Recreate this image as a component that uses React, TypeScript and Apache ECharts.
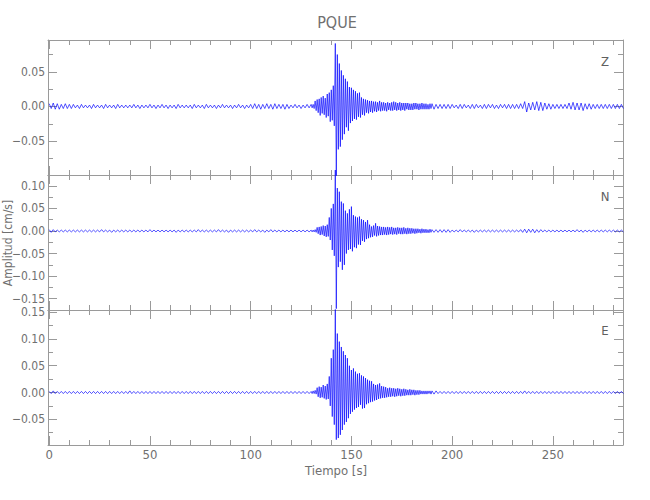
import React, { useEffect, useRef } from "react";
import * as echarts from "echarts";

// Coarse envelope: one bin every 2 s (t = 0, 2, ..., 284), max (hi) and min (lo) per bin
const T_STEP = 2;
// Fine envelope in the event window: one bin per second from EV_START to EV_END-1
const EV_START = 130;
const EV_END = 190;
const EV_STEP = 1;

const X_MIN = -0.6;
const X_MAX = 284.8;
const xMajor = [0, 50, 100, 150, 200, 250];
const xMinor = [10, 20, 30, 40, 60, 70, 80, 90, 110, 120, 130, 140, 160, 170, 180, 190, 210, 220, 230, 240, 260, 270, 280];

const components = ["Z", "N", "E"];
const yRanges = [
  [-0.099, 0.096],
  [-0.175, 0.124],
  [-0.098, 0.154],
];
const yMajors = [
  [-0.05, 0, 0.05],
  [-0.15, -0.1, -0.05, 0, 0.05, 0.1],
  [-0.05, 0, 0.05, 0.1, 0.15],
];
const yMinors = [
  [-0.075, -0.025, 0.025, 0.075],
  [-0.125, -0.075, -0.025, 0.025, 0.075],
  [-0.075, -0.025, 0.025, 0.075, 0.125],
];

const zHi = [
  0.004, 0.005, 0.004, 0.003, 0.004, 0.003, 0.003, 0.002, 0.003, 0.002,
  0.002, 0.003, 0.002, 0.002, 0.003, 0.002, 0.002, 0.003, 0.002, 0.002,
  0.002, 0.003, 0.002, 0.002, 0.002, 0.003, 0.002, 0.002, 0.003, 0.002,
  0.002, 0.002, 0.003, 0.002, 0.002, 0.002, 0.003, 0.002, 0.002, 0.003,
  0.002, 0.002, 0.002, 0.003, 0.002, 0.002, 0.002, 0.003, 0.002, 0.002,
  0.003, 0.004, 0.003, 0.003, 0.004, 0.003, 0.004, 0.003, 0.003, 0.003,
  0.002, 0.003, 0.002, 0.002, 0.003, 0.002, 0.009, 0.012, 0.015, 0.018,
  0.027, 0.091, 0.062, 0.047, 0.037, 0.027, 0.022, 0.020, 0.011, 0.009,
  0.008, 0.007, 0.008, 0.006, 0.006, 0.007, 0.006, 0.006, 0.005, 0.005,
  0.004, 0.005, 0.004, 0.005, 0.004, 0.004, 0.003, 0.003, 0.003, 0.003,
  0.003, 0.002, 0.003, 0.003, 0.002, 0.003, 0.003, 0.002, 0.003, 0.003,
  0.003, 0.002, 0.003, 0.003, 0.003, 0.003, 0.003, 0.004, 0.007, 0.005,
  0.006, 0.007, 0.006, 0.005, 0.004, 0.003, 0.003, 0.003, 0.003, 0.005,
  0.006, 0.005, 0.005, 0.004, 0.004, 0.003, 0.003, 0.003, 0.003, 0.003,
  0.003, 0.003, 0.003,
];
const zLo = [
  -0.003, -0.004, -0.004, -0.003, -0.003, -0.003, -0.002, -0.003, -0.002, -0.002,
  -0.003, -0.002, -0.002, -0.003, -0.002, -0.002, -0.003, -0.002, -0.002, -0.002,
  -0.002, -0.002, -0.003, -0.002, -0.002, -0.002, -0.003, -0.002, -0.002, -0.003,
  -0.002, -0.003, -0.002, -0.002, -0.002, -0.003, -0.002, -0.002, -0.003, -0.002,
  -0.002, -0.003, -0.002, -0.002, -0.002, -0.003, -0.002, -0.002, -0.003, -0.002,
  -0.003, -0.003, -0.004, -0.003, -0.003, -0.004, -0.003, -0.003, -0.004, -0.003,
  -0.002, -0.002, -0.003, -0.002, -0.002, -0.003, -0.008, -0.014, -0.012, -0.020,
  -0.025, -0.100, -0.060, -0.040, -0.035, -0.021, -0.019, -0.016, -0.013, -0.010,
  -0.009, -0.008, -0.007, -0.006, -0.007, -0.006, -0.006, -0.005, -0.006, -0.005,
  -0.005, -0.004, -0.005, -0.004, -0.004, -0.004, -0.003, -0.003, -0.003, -0.003,
  -0.002, -0.003, -0.003, -0.002, -0.003, -0.003, -0.002, -0.003, -0.003, -0.002,
  -0.003, -0.003, -0.002, -0.003, -0.003, -0.003, -0.003, -0.003, -0.008, -0.005,
  -0.005, -0.006, -0.006, -0.004, -0.004, -0.003, -0.003, -0.003, -0.003, -0.004,
  -0.005, -0.005, -0.006, -0.004, -0.004, -0.003, -0.003, -0.003, -0.003, -0.003,
  -0.003, -0.003, -0.003,
];
const zEvHi = [
  0.003, 0.003, 0.008, 0.010, 0.011, 0.013, 0.015, 0.012, 0.018, 0.020,
  0.024, 0.030, 0.091, 0.075, 0.062, 0.052, 0.045, 0.040, 0.036, 0.028,
  0.027, 0.024, 0.022, 0.019, 0.020, 0.013, 0.011, 0.010, 0.009, 0.008,
  0.008, 0.007, 0.007, 0.006, 0.008, 0.006, 0.006, 0.005, 0.006, 0.005,
  0.006, 0.007, 0.006, 0.005, 0.006, 0.005, 0.005, 0.005, 0.005, 0.004,
  0.004, 0.005, 0.005, 0.004, 0.004, 0.005, 0.004, 0.004, 0.003, 0.004,
];
const zEvLo = [
  -0.002, -0.003, -0.006, -0.009, -0.013, -0.010, -0.012, -0.016, -0.014, -0.022,
  -0.020, -0.028, -0.100, -0.062, -0.058, -0.048, -0.040, -0.030, -0.035, -0.024,
  -0.021, -0.018, -0.019, -0.015, -0.016, -0.012, -0.013, -0.009, -0.010, -0.008,
  -0.009, -0.007, -0.008, -0.006, -0.007, -0.006, -0.006, -0.007, -0.005, -0.006,
  -0.006, -0.005, -0.006, -0.005, -0.006, -0.005, -0.006, -0.004, -0.005, -0.005,
  -0.005, -0.004, -0.004, -0.005, -0.004, -0.004, -0.004, -0.004, -0.004, -0.003,
];

const nHi = [
  0.003, 0.003, 0.002, 0.002, 0.002, 0.002, 0.002, 0.002, 0.002, 0.002,
  0.002, 0.002, 0.002, 0.003, 0.002, 0.002, 0.002, 0.002, 0.002, 0.002,
  0.002, 0.002, 0.002, 0.002, 0.002, 0.003, 0.002, 0.002, 0.002, 0.002,
  0.002, 0.002, 0.002, 0.002, 0.002, 0.002, 0.002, 0.003, 0.002, 0.002,
  0.002, 0.002, 0.003, 0.002, 0.002, 0.002, 0.002, 0.002, 0.002, 0.002,
  0.002, 0.003, 0.002, 0.002, 0.002, 0.003, 0.002, 0.002, 0.002, 0.002,
  0.002, 0.002, 0.002, 0.002, 0.002, 0.003, 0.006, 0.010, 0.013, 0.015,
  0.050, 0.135, 0.087, 0.061, 0.039, 0.054, 0.032, 0.032, 0.024, 0.024,
  0.010, 0.017, 0.010, 0.009, 0.009, 0.009, 0.007, 0.007, 0.008, 0.007,
  0.007, 0.005, 0.005, 0.005, 0.004, 0.003, 0.003, 0.003, 0.003, 0.003,
  0.002, 0.002, 0.003, 0.002, 0.002, 0.002, 0.002, 0.002, 0.002, 0.002,
  0.002, 0.002, 0.002, 0.002, 0.002, 0.002, 0.002, 0.003, 0.004, 0.004,
  0.004, 0.003, 0.003, 0.002, 0.002, 0.002, 0.002, 0.002, 0.002, 0.002,
  0.002, 0.003, 0.002, 0.002, 0.002, 0.002, 0.002, 0.002, 0.002, 0.002,
  0.002, 0.002, 0.002,
];
const nLo = [
  -0.003, -0.002, -0.002, -0.002, -0.002, -0.002, -0.002, -0.002, -0.002, -0.002,
  -0.002, -0.002, -0.002, -0.002, -0.002, -0.003, -0.002, -0.002, -0.002, -0.002,
  -0.002, -0.002, -0.002, -0.002, -0.002, -0.002, -0.002, -0.002, -0.002, -0.002,
  -0.002, -0.003, -0.002, -0.002, -0.002, -0.002, -0.002, -0.002, -0.002, -0.002,
  -0.002, -0.002, -0.002, -0.002, -0.003, -0.002, -0.002, -0.002, -0.002, -0.002,
  -0.002, -0.002, -0.002, -0.003, -0.002, -0.002, -0.002, -0.002, -0.002, -0.002,
  -0.002, -0.002, -0.002, -0.002, -0.002, -0.002, -0.005, -0.009, -0.012, -0.013,
  -0.042, -0.172, -0.068, -0.086, -0.042, -0.045, -0.038, -0.031, -0.024, -0.016,
  -0.013, -0.012, -0.009, -0.008, -0.008, -0.008, -0.007, -0.007, -0.006, -0.007,
  -0.006, -0.005, -0.005, -0.004, -0.004, -0.003, -0.003, -0.003, -0.003, -0.003,
  -0.002, -0.002, -0.002, -0.002, -0.002, -0.003, -0.002, -0.002, -0.002, -0.002,
  -0.002, -0.002, -0.002, -0.002, -0.002, -0.002, -0.002, -0.003, -0.004, -0.003,
  -0.004, -0.003, -0.002, -0.002, -0.002, -0.002, -0.002, -0.002, -0.002, -0.002,
  -0.002, -0.002, -0.003, -0.002, -0.002, -0.002, -0.002, -0.002, -0.002, -0.002,
  -0.002, -0.002, -0.002,
];
const nEvHi = [
  0.002, 0.002, 0.003, 0.008, 0.009, 0.010, 0.012, 0.011, 0.014, 0.030,
  0.050, 0.060, 0.135, 0.095, 0.087, 0.065, 0.061, 0.045, 0.039, 0.048,
  0.054, 0.035, 0.032, 0.030, 0.032, 0.026, 0.024, 0.020, 0.024, 0.014,
  0.010, 0.012, 0.017, 0.011, 0.010, 0.009, 0.009, 0.008, 0.009, 0.008,
  0.009, 0.007, 0.007, 0.008, 0.007, 0.007, 0.008, 0.006, 0.007, 0.006,
  0.006, 0.005, 0.005, 0.005, 0.004, 0.005, 0.004, 0.004, 0.003, 0.004,
];
const nEvLo = [
  -0.002, -0.002, -0.003, -0.006, -0.009, -0.008, -0.011, -0.013, -0.012, -0.020,
  -0.042, -0.055, -0.172, -0.080, -0.068, -0.086, -0.075, -0.050, -0.042, -0.040,
  -0.045, -0.036, -0.038, -0.030, -0.031, -0.022, -0.024, -0.018, -0.016, -0.014,
  -0.013, -0.010, -0.012, -0.010, -0.009, -0.009, -0.008, -0.009, -0.008, -0.007,
  -0.008, -0.007, -0.008, -0.006, -0.007, -0.007, -0.006, -0.007, -0.006, -0.006,
  -0.005, -0.006, -0.005, -0.004, -0.005, -0.004, -0.004, -0.004, -0.004, -0.003,
];

const eHi = [
  0.002, 0.003, 0.002, 0.002, 0.002, 0.002, 0.002, 0.002, 0.002, 0.002,
  0.002, 0.002, 0.002, 0.002, 0.002, 0.002, 0.002, 0.002, 0.002, 0.002,
  0.003, 0.002, 0.002, 0.002, 0.002, 0.002, 0.002, 0.002, 0.002, 0.002,
  0.002, 0.002, 0.002, 0.002, 0.002, 0.002, 0.002, 0.002, 0.002, 0.002,
  0.002, 0.002, 0.002, 0.002, 0.002, 0.002, 0.002, 0.002, 0.002, 0.002,
  0.002, 0.002, 0.002, 0.002, 0.002, 0.002, 0.002, 0.002, 0.002, 0.002,
  0.002, 0.002, 0.002, 0.002, 0.002, 0.003, 0.006, 0.011, 0.014, 0.016,
  0.064, 0.155, 0.095, 0.077, 0.064, 0.042, 0.039, 0.036, 0.030, 0.024,
  0.021, 0.014, 0.017, 0.011, 0.008, 0.009, 0.008, 0.008, 0.007, 0.005,
  0.005, 0.005, 0.004, 0.004, 0.003, 0.003, 0.003, 0.002, 0.002, 0.002,
  0.002, 0.002, 0.002, 0.002, 0.002, 0.002, 0.002, 0.002, 0.002, 0.002,
  0.002, 0.002, 0.002, 0.002, 0.002, 0.002, 0.002, 0.002, 0.003, 0.002,
  0.002, 0.002, 0.002, 0.002, 0.002, 0.002, 0.002, 0.002, 0.002, 0.002,
  0.002, 0.002, 0.002, 0.002, 0.002, 0.002, 0.002, 0.002, 0.002, 0.002,
  0.002, 0.002, 0.002,
];
const eLo = [
  -0.002, -0.002, -0.002, -0.002, -0.002, -0.002, -0.002, -0.002, -0.002, -0.002,
  -0.002, -0.002, -0.002, -0.002, -0.002, -0.002, -0.002, -0.002, -0.002, -0.002,
  -0.002, -0.002, -0.002, -0.002, -0.002, -0.002, -0.002, -0.002, -0.002, -0.002,
  -0.002, -0.002, -0.002, -0.002, -0.002, -0.002, -0.002, -0.002, -0.002, -0.002,
  -0.002, -0.002, -0.002, -0.002, -0.002, -0.002, -0.002, -0.002, -0.002, -0.002,
  -0.002, -0.002, -0.002, -0.002, -0.002, -0.002, -0.002, -0.002, -0.002, -0.002,
  -0.002, -0.002, -0.002, -0.002, -0.002, -0.002, -0.005, -0.010, -0.011, -0.013,
  -0.045, -0.088, -0.079, -0.060, -0.048, -0.036, -0.029, -0.023, -0.029, -0.020,
  -0.017, -0.014, -0.011, -0.010, -0.008, -0.008, -0.007, -0.008, -0.006, -0.005,
  -0.005, -0.004, -0.004, -0.003, -0.003, -0.003, -0.002, -0.002, -0.002, -0.002,
  -0.002, -0.002, -0.002, -0.002, -0.002, -0.002, -0.002, -0.002, -0.002, -0.002,
  -0.002, -0.002, -0.002, -0.002, -0.002, -0.002, -0.002, -0.002, -0.002, -0.002,
  -0.002, -0.002, -0.002, -0.002, -0.002, -0.002, -0.002, -0.002, -0.002, -0.002,
  -0.002, -0.002, -0.002, -0.002, -0.002, -0.002, -0.002, -0.002, -0.002, -0.002,
  -0.002, -0.002, -0.002,
];
const eEvHi = [
  0.002, 0.003, 0.004, 0.009, 0.011, 0.010, 0.014, 0.012, 0.016, 0.030,
  0.064, 0.080, 0.155, 0.110, 0.095, 0.085, 0.077, 0.070, 0.064, 0.050,
  0.042, 0.045, 0.039, 0.035, 0.036, 0.032, 0.030, 0.027, 0.024, 0.022,
  0.021, 0.016, 0.014, 0.015, 0.017, 0.012, 0.011, 0.010, 0.008, 0.009,
  0.008, 0.008, 0.007, 0.008, 0.007, 0.006, 0.007, 0.006, 0.005, 0.006,
  0.005, 0.005, 0.004, 0.004, 0.004, 0.003, 0.003, 0.003, 0.003, 0.003,
];
const eEvLo = [
  -0.002, -0.002, -0.003, -0.008, -0.010, -0.009, -0.011, -0.013, -0.012, -0.025,
  -0.045, -0.060, -0.088, -0.085, -0.079, -0.070, -0.060, -0.055, -0.048, -0.040,
  -0.036, -0.032, -0.029, -0.027, -0.023, -0.030, -0.029, -0.022, -0.020, -0.018,
  -0.017, -0.015, -0.014, -0.012, -0.011, -0.010, -0.010, -0.009, -0.008, -0.008,
  -0.007, -0.008, -0.007, -0.006, -0.007, -0.006, -0.006, -0.005, -0.005, -0.005,
  -0.004, -0.005, -0.004, -0.004, -0.003, -0.003, -0.003, -0.003, -0.002, -0.003,
];

const coarse = [
  [zHi, zLo],
  [nHi, nLo],
  [eHi, eLo],
];
const fine = [
  [zEvHi, zEvLo],
  [nEvHi, nEvLo],
  [eEvHi, eEvLo],
];

const AXIS_COLOR = "#9a9a9a";
const TEXT_COLOR = "#707070";
const FONT = "'Liberation Sans Narrow', 'DejaVu Sans Condensed', 'Liberation Sans', sans-serif";

function fmtY(v: number) {
  const s = Math.abs(v).toFixed(2);
  return v < -1e-9 ? "\u2212" + s : s;
}

function buildOption() {
  const grids: any[] = [];
  const xAxes: any[] = [];
  const yAxes: any[] = [];
  const series: any[] = [];
  const tops = [40, 175, 310];
  const H = 135;

  const mkX = (grid: number, pos: string, vals: number[], len: number, main: boolean, labels: boolean) => ({
    type: "value",
    gridIndex: grid,
    position: pos,
    min: X_MIN,
    max: X_MAX,
    axisLine: { show: main, onZero: false, lineStyle: { color: AXIS_COLOR, width: 1 } },
    axisTick: { show: true, inside: true, length: len, customValues: vals, lineStyle: { color: AXIS_COLOR, width: 1 } },
    axisLabel: labels
      ? { show: true, customValues: xMajor, color: TEXT_COLOR, fontFamily: FONT, fontSize: 13, margin: 3, formatter: (v: number) => String(v) }
      : { show: false },
    splitLine: { show: false },
    minorTick: { show: false },
  });
  const mkY = (grid: number, g: number, pos: string, vals: number[], len: number, main: boolean, labels: boolean) => ({
    type: "value",
    gridIndex: grid,
    position: pos,
    min: yRanges[g][0],
    max: yRanges[g][1],
    axisLine: { show: main, onZero: false, lineStyle: { color: AXIS_COLOR, width: 1 } },
    axisTick: { show: true, inside: true, length: len, customValues: vals, lineStyle: { color: AXIS_COLOR, width: 1 } },
    axisLabel: labels
      ? { show: true, customValues: yMajors[g], color: TEXT_COLOR, fontFamily: FONT, fontSize: 12, margin: 3, formatter: (v: number) => fmtY(v) }
      : { show: false },
    splitLine: { show: false },
    minorTick: { show: false },
  });

  // main grids (0..2): major ticks + labels
  for (let g = 0; g < 3; g++) {
    grids.push({ left: 48, width: 575, top: tops[g], height: H });
    xAxes.push(mkX(g, "bottom", xMajor, 9, true, g === 2));
    xAxes.push(mkX(g, "top", xMajor, 9, true, false));
    yAxes.push(mkY(g, g, "left", yMajors[g], 9, true, true));
    yAxes.push(mkY(g, g, "right", yMajors[g], 9, true, false));
  }
  // overlay grids (3..5): minor ticks
  for (let g = 0; g < 3; g++) {
    const gi = 3 + g;
    grids.push({ left: 48, width: 575, top: tops[g], height: H });
    xAxes.push(mkX(gi, "bottom", xMinor, 5, false, false));
    xAxes.push(mkX(gi, "top", xMinor, 5, false, false));
    yAxes.push(mkY(gi, g, "left", yMinors[g], 5, false, false));
    yAxes.push(mkY(gi, g, "right", yMinors[g], 5, false, false));
  }

  for (let g = 0; g < 3; g++) {
    const [hi, lo] = coarse[g];
    const [fh, fl] = fine[g];
    const data: number[][] = [];
    for (let i = 0; i < hi.length; i++) {
      const t = i * T_STEP;
      if (t === EV_START) {
        for (let k = 0; k < fh.length; k++) {
          const tf = EV_START + k * EV_STEP;
          data.push([tf, fh[k]]);
          data.push([tf + EV_STEP / 2, fl[k]]);
        }
      }
      if (t >= EV_START && t < EV_END) continue;
      data.push([t, hi[i]]);
      data.push([t + T_STEP / 2, lo[i]]);
    }
    series.push({
      type: "line",
      name: components[g],
      xAxisIndex: g * 2,
      yAxisIndex: g * 2,
      data,
      symbol: "none",
      showSymbol: false,
      clip: false,
      silent: true,
      lineStyle: { color: "#0000ff", width: 0.75, opacity: 0.9 },
      z: 3,
    });
  }

  const graphics: any[] = [
    { type: "text", x: 337, y: 22, style: { text: "PQUE", fill: TEXT_COLOR, font: `16px ${FONT}`, align: "center", verticalAlign: "middle" } },
    { type: "text", x: 336, y: 470, style: { text: "Tiempo [s]", fill: TEXT_COLOR, font: `13px ${FONT}`, align: "center", verticalAlign: "middle" } },
    { type: "text", x: 8, y: 243, rotation: Math.PI / 2, style: { text: "Amplitud [cm/s]", fill: TEXT_COLOR, font: `12px ${FONT}`, align: "center", verticalAlign: "middle" } },
  ];
  const labelY = [61, 196, 330];
  components.forEach((c, i) => {
    graphics.push({ type: "text", x: 605, y: labelY[i], style: { text: c, fill: "#606060", font: `13px ${FONT}`, align: "center", verticalAlign: "middle" } });
  });

  return {
    animation: false,
    backgroundColor: "#ffffff",
    grid: grids,
    xAxis: xAxes,
    yAxis: yAxes,
    series,
    graphic: graphics,
  };
}

export default function App() {
  const ref = useRef<HTMLDivElement>(null);
  useEffect(() => {
    if (!ref.current) return;
    const chart = echarts.init(ref.current, undefined, { renderer: "svg" });
    chart.setOption(buildOption() as any);
    return () => chart.dispose();
  }, []);
  return <div ref={ref} style={{ position: "fixed", left: 0, top: 0, width: 650, height: 500 }} />;
}
